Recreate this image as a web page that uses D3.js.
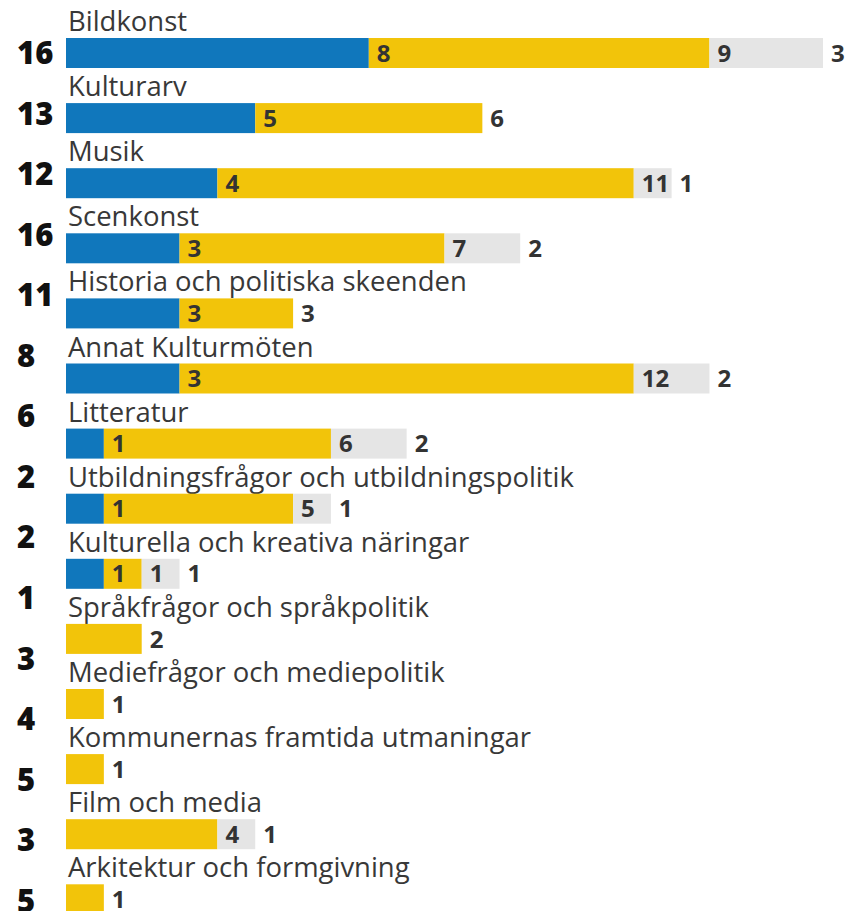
<!DOCTYPE html>
<html>
<head>
<meta charset="utf-8">
<script src="https://cdn.jsdelivr.net/npm/d3@7"></script>
<style>
  html, body { margin: 0; padding: 0; background: #ffffff; }
  svg { display: block; }
</style>
</head>
<body>
<div id="chart"></div>
<script>
const categories = [
  "Bildkonst",
  "Kulturarv",
  "Musik",
  "Scenkonst",
  "Historia och politiska skeenden",
  "Annat Kulturmöten",
  "Litteratur",
  "Utbildningsfrågor och utbildningspolitik",
  "Kulturella och kreativa näringar",
  "Språkfrågor och språkpolitik",
  "Mediefrågor och mediepolitik",
  "Kommunernas framtida utmaningar",
  "Film och media",
  "Arkitektur och formgivning"
];
const blueValues   = [8, 5, 4, 3, 3, 3, 1, 1, 1, 0, 0, 0, 0, 0];
const yellowValues = [9, 6, 11, 7, 3, 12, 6, 5, 1, 2, 1, 1, 4, 1];
const greyValues   = [3, 0, 1, 2, 0, 2, 2, 1, 1, 0, 0, 0, 1, 0];
const leftNumbers  = [16, 13, 12, 16, 11, 8, 6, 2, 2, 1, 3, 4, 5, 3, 5];

const seriesKeys = ["blue", "yellow", "grey"];
const seriesColors = ["#1077bc", "#f2c40a", "#e5e5e5"];

const W = 847, H = 911;
const svg = d3.select("#chart").append("svg")
  .attr("width", W).attr("height", H)
  .attr("viewBox", `0 0 ${W} ${H}`);

const rows = categories.map((c, i) => ({
  category: c, blue: blueValues[i], yellow: yellowValues[i], grey: greyValues[i]
}));

const x = d3.scaleLinear().domain([0, 20]).range([66, 823]);
const rowStep = 65.1, barH = 30, firstBarTop = 38;
const y = d3.scaleBand()
  .domain(categories)
  .range([firstBarTop, firstBarTop + (categories.length - 1) * rowStep + barH])
  .paddingInner(1 - barH / rowStep)
  .paddingOuter(0);

const yLeft = d3.scalePoint()
  .domain(d3.range(leftNumbers.length))
  .range([53, 53 + (leftNumbers.length - 1) * 60.54]);

const stacked = d3.stack().keys(seriesKeys)(rows);

const labelFont = "'Open Sans', 'DejaVu Sans', sans-serif";

// category labels
const catLabels = svg.append("g").selectAll("text")
  .data(rows)
  .join("text")
  .attr("x", 68)
  .attr("y", d => y(d.category) - 7)
  .attr("fill", "#383838")
  .style("font-family", labelFont)
  .style("font-size", "24px")
  .text(d => d.category);

// fit label size to the reference widths of two long labels
{
  const n = catLabels.nodes();
  const w = n[4].getComputedTextLength() + n[7].getComputedTextLength();
  const size = 24 * (393 + 512) / w;
  catLabels.style("font-size", size.toFixed(2) + "px");
}

// bars
const gBars = svg.append("g");
stacked.forEach((layer, li) => {
  gBars.append("g").attr("fill", seriesColors[li])
    .selectAll("rect")
    .data(layer.filter(d => d[1] > d[0]))
    .join("rect")
    .attr("x", d => x(d[0]))
    .attr("y", d => y(d.data.category))
    .attr("width", d => x(d[1]) - x(d[0]))
    .attr("height", y.bandwidth());
});

// value labels (placed just after each segment end)
const gVals = svg.append("g");
stacked.forEach((layer, li) => {
  gVals.append("g")
    .selectAll("text")
    .data(layer.filter(d => d[1] > d[0]))
    .join("text")
    .attr("x", d => x(d[1]) + 8)
    .attr("y", d => y(d.data.category) + y.bandwidth() / 2)
    .attr("dy", "0.36em")
    .attr("fill", "#333333")
    .style("font-family", labelFont)
    .style("font-weight", 700)
    .style("font-size", "24px")
    .text(d => d[1] - d[0]);
});

// left numbers
svg.append("g").selectAll("text")
  .data(leftNumbers)
  .join("text")
  .attr("x", 17)
  .attr("y", (d, i) => yLeft(i))
  .attr("dy", "0.36em")
  .attr("fill", "#111111")
  .style("font-family", labelFont)
  .style("font-weight", 800)
  .style("font-size", "31px")
  .text(d => d);
</script>
</body>
</html>
